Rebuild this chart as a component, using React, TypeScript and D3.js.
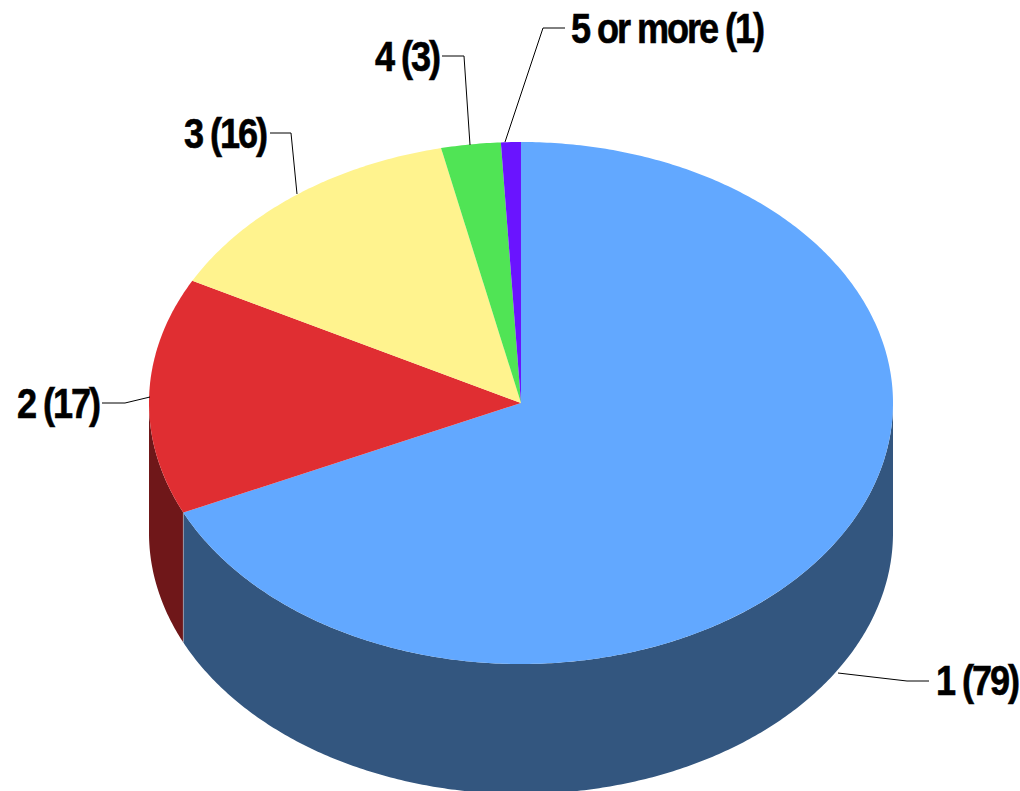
import React from "react";
import * as d3 from "d3";

const categories = ["1", "2", "3", "4", "5 or more"];
const counts = [79, 17, 16, 3, 1];
const topColors = ["#62a8ff", "#e02e32", "#fff38e", "#50e455", "#6a14ff"];
const sideColors = ["#33567f", "#6f1719", "#8a8350", "#2c7d30", "#3a0b8c"];

// label placement: text anchor point and leader polyline
const labelLayout = [
  { x: 936, y: 681, anchor: "start", line: [[838, 673], [907, 681], [929, 681]] },
  { x: 99, y: 404, anchor: "end", line: [[150, 397], [125, 403], [102, 403]] },
  { x: 266, y: 134, anchor: "end", line: [[297, 194], [291, 133], [270, 133]] },
  { x: 439, y: 57, anchor: "end", line: [[470, 145], [464, 56], [442, 56]] },
  { x: 571, y: 29, anchor: "start", line: [[505, 142], [543, 28], [565, 28]] },
];

const W = 1020, H = 791;
const cx = 521, cy = 403, rx = 372, ry = 261, depth = 130;

export default function App() {
  const pie = d3.pie<number>().sort(null).startAngle(0).endAngle(2 * Math.PI);
  const arcs = pie(counts);
  const x = d3.scaleLinear().domain([-1, 1]).range([cx - rx, cx + rx]);
  const y = d3.scaleLinear().domain([-1, 1]).range([cy - ry, cy + ry]);
  const pt = (a: number, dy = 0): [number, number] => [x(Math.sin(a)), y(-Math.cos(a)) + dy];
  const line = d3.line();
  const sample = (a0: number, a1: number) => {
    const n = Math.max(2, Math.ceil(Math.abs(a1 - a0) / 0.01));
    return d3.range(n + 1).map((i) => a0 + ((a1 - a0) * i) / n);
  };
  const topPath = (a0: number, a1: number) =>
    line([[cx, cy], ...sample(a0, a1).map((a) => pt(a))])! + "Z";
  const sidePath = (a0: number, a1: number) => {
    const s = Math.max(a0, Math.PI / 2);
    const e = Math.min(a1, 1.5 * Math.PI);
    if (e <= s) return null;
    const as = sample(s, e);
    return (
      line([...as.map((a) => pt(a)), ...as.slice().reverse().map((a) => pt(a, depth))])! + "Z"
    );
  };
  return (
    <svg
      width={W}
      height={H}
      viewBox={`0 0 ${W} ${H}`}
      style={{ position: "absolute", left: 0, top: 0, background: "#fff" }}
    >
      {arcs.map((d, i) => {
        const p = sidePath(d.startAngle, d.endAngle);
        return p ? <path key={i} d={p} fill={sideColors[i]} /> : null;
      })}
      {(() => {
        const a = arcs[0].endAngle;
        const p0 = pt(a), p1 = pt(a, depth);
        return <path d={line([p0, p1])!} stroke="#9aa7b8" strokeWidth={0.8} fill="none" />;
      })()}
      {arcs.map((d, i) => (
        <path key={i} d={topPath(d.startAngle, d.endAngle)} fill={topColors[i]} />
      ))}
      {labelLayout.map((l, i) => (
        <path
          key={i}
          d={line(l.line as [number, number][])!}
          fill="none"
          stroke="#000"
          strokeWidth={1}
        />
      ))}
      {labelLayout.map((l, i) => (
        <text
          key={i}
          transform={`translate(${l.x},${l.y + 14}) scale(0.86,1)`}
          textAnchor={l.anchor as "start" | "end"}
          fontFamily="'Liberation Sans', Arial, sans-serif"
          fontWeight="bold"
          fontSize={42}
          letterSpacing={-2.4}
          stroke="#000"
          strokeWidth={0.6}
          fill="#000"
        >
          {`${categories[i]} (${counts[i]})`}
        </text>
      ))}
    </svg>
  );
}
